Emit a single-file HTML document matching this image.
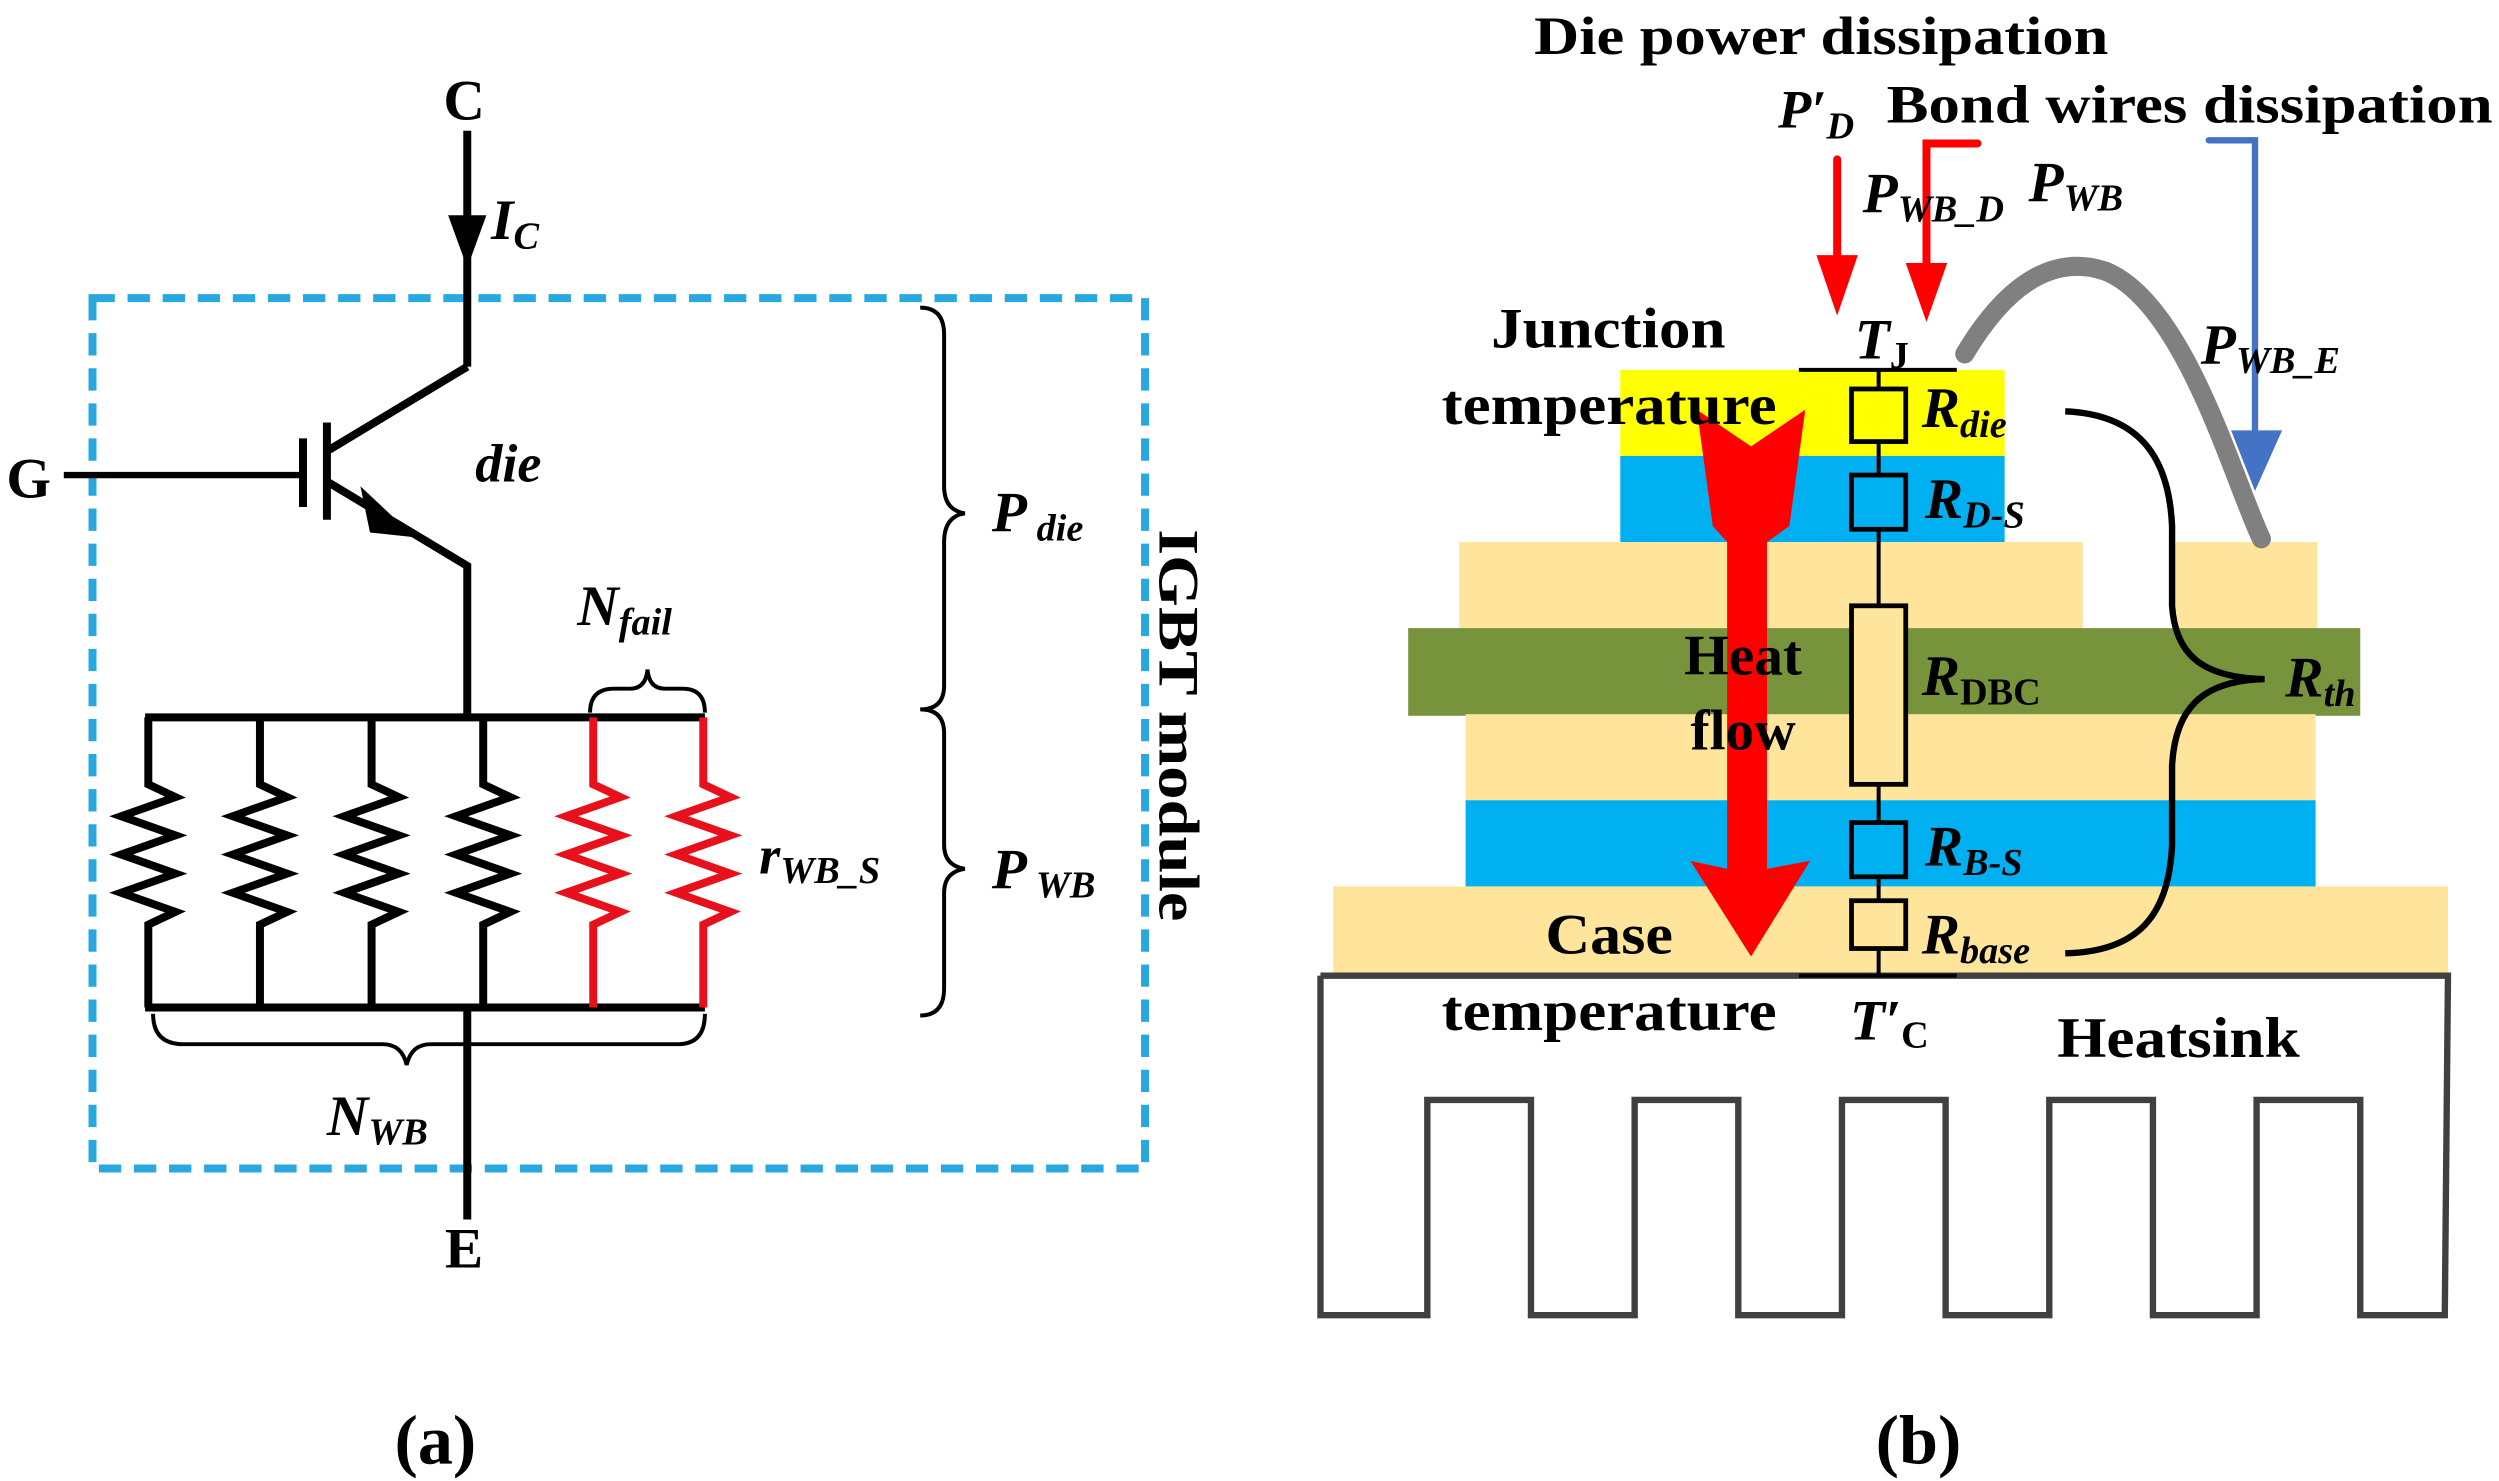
<!DOCTYPE html>
<html><head><meta charset="utf-8"><style>
html,body{margin:0;padding:0;background:#fff;}
svg{display:block;}
text{font-family:"Liberation Serif",serif;font-weight:bold;}
</style></head><body>
<svg width="2499" height="1481" viewBox="0 0 1567 929" preserveAspectRatio="none" xmlns="http://www.w3.org/2000/svg">
<!-- ========== (a) ========== -->
<rect x="58" y="187" width="660" height="546" fill="none" stroke="#29a8e0" stroke-width="5" stroke-dasharray="14,8"/>
<text x="291" y="75" font-size="36" text-anchor="middle">C</text>
<line x1="293" y1="82" x2="293" y2="230" stroke="#000" stroke-width="5"/>
<polygon points="281,135 305,135 293,168" fill="#000"/>
<text x="308" y="150" font-size="36" font-style="italic">I<tspan font-size="24" dy="6">C</tspan></text>
<polyline points="293,230 205,283" fill="none" stroke="#000" stroke-width="5"/>
<line x1="205" y1="265" x2="205" y2="326" stroke="#000" stroke-width="5"/>
<line x1="190" y1="275" x2="190" y2="318" stroke="#000" stroke-width="5"/>
<line x1="40" y1="298" x2="190" y2="298" stroke="#000" stroke-width="4"/>
<text x="4" y="312" font-size="36">G</text>
<polyline points="205,302 293,355 293,450" fill="none" stroke="#000" stroke-width="5"/>
<polygon points="226,305 260,337 232,334" fill="#000"/>
<text x="298" y="302" font-size="34" font-style="italic">die</text>
<line x1="91" y1="450" x2="442" y2="450" stroke="#000" stroke-width="5"/>
<line x1="91" y1="632" x2="442" y2="632" stroke="#000" stroke-width="5"/>
<g fill="none" stroke-width="5" stroke-linejoin="miter">
<polyline stroke="#000" points="93,450 93,492 110,500 76,512 110,524 76,536 110,548 76,560 110,572 93,580 93,632"/>
<polyline stroke="#000" points="163,450 163,492 180,500 146,512 180,524 146,536 180,548 146,560 180,572 163,580 163,632"/>
<polyline stroke="#000" points="233,450 233,492 250,500 216,512 250,524 216,536 250,548 216,560 250,572 233,580 233,632"/>
<polyline stroke="#000" points="303,450 303,492 320,500 286,512 320,524 286,536 320,548 286,560 320,572 303,580 303,632"/>
<polyline stroke="#e8101a" points="372,450 372,492 389,500 355,512 389,524 355,536 389,548 355,560 389,572 372,580 372,632"/>
<polyline stroke="#e8101a" points="441,450 441,492 458,500 424,512 458,524 424,536 458,548 424,560 458,572 441,580 441,632"/>
</g>
<line x1="293" y1="632" x2="293" y2="765" stroke="#000" stroke-width="5"/>
<text x="291" y="795" font-size="36" text-anchor="middle">E</text>
<path d="M370,447 Q370,432 385,432 L395,432 Q405,432 406,420 Q407,432 417,432 L428,432 Q442,432 442,447" fill="none" stroke="#000" stroke-width="2.5"/>
<text x="362" y="392" font-size="36" font-style="italic">N<tspan font-size="24" dy="6">fail</tspan></text>
<path d="M96,636 Q96,655 115,655 L240,655 Q252,655 255,668 Q258,655 270,655 L425,655 Q442,655 442,636" fill="none" stroke="#000" stroke-width="2.5"/>
<text x="205" y="712" font-size="36" font-style="italic">N<tspan font-size="24" dy="6">WB</tspan></text>
<text x="476" y="548" font-size="34" font-style="italic">r<tspan font-size="24" dy="6">WB_S</tspan></text>
<path d="M577,193 Q592,193 592,210 L592,305 Q592,320 605,322 Q592,324 592,340 L592,430 Q592,445 577,445 Q592,445 592,460 L592,530 Q592,543 605,545 Q592,547 592,560 L592,620 Q592,637 577,637" fill="none" stroke="#000" stroke-width="2.5"/>
<text x="622" y="333" font-size="36" font-style="italic">P<tspan font-size="24" dy="6"> die</tspan></text>
<text x="622" y="557" font-size="36" font-style="italic">P<tspan font-size="24" dy="6"> WB</tspan></text>
<text x="0" y="0" font-size="36" transform="translate(727,332) rotate(90)" textLength="246" lengthAdjust="spacingAndGlyphs">IGBT module</text>
<text x="273" y="918" font-size="44" text-anchor="middle" font-weight="normal">(<tspan font-weight="bold">a</tspan>)</text>

<!-- ========== (b) ========== -->
<rect x="1016" y="232" width="241" height="55" fill="#ffff00"/>
<rect x="1016" y="286" width="241" height="55" fill="#00b0f0"/>
<rect x="915" y="340" width="391" height="55" fill="#ffe59b"/>
<rect x="1364" y="340" width="89" height="55" fill="#ffe59b"/>
<rect x="883" y="394" width="597" height="55" fill="#77933c"/>
<rect x="919" y="448" width="533" height="55" fill="#ffe59b"/>
<rect x="919" y="502" width="533" height="55" fill="#00b0f0"/>
<rect x="836" y="556" width="699" height="56" fill="#ffe59b"/>
<polyline points="828,612 1535,612 1533,825 1480,825 1480,690 1415,690 1415,825 1350,825 1350,690 1285,690 1285,825 1220,825 1220,690 1155,690 1155,825 1090,825 1090,690 1025,690 1025,825 960,825 960,690 895,690 895,825 828,825 828,612" fill="none" stroke="#404040" stroke-width="4"/>
<polygon points="1064,257 1098,280 1132,257 1122,330 1108,340 1108,545 1135,540 1098,600 1060,540 1083,545 1083,340 1074,330" fill="#ff0000"/>
<line x1="1178" y1="232" x2="1178" y2="612" stroke="#000" stroke-width="2.5"/>
<line x1="1128" y1="232" x2="1227" y2="232" stroke="#000" stroke-width="2.5"/>
<line x1="1128" y1="612" x2="1227" y2="612" stroke="#000" stroke-width="2.5"/>
<g stroke="#000" stroke-width="3">
<rect x="1161" y="244" width="34" height="33" fill="#ffff00"/>
<rect x="1161" y="298" width="34" height="34" fill="#00b0f0"/>
<rect x="1161" y="380" width="34" height="112" fill="#ffe59b"/>
<rect x="1161" y="516" width="34" height="34" fill="#00b0f0"/>
<rect x="1161" y="565" width="34" height="30" fill="#ffe59b"/>
</g>
<path d="M1232,222 C1260,175 1290,160 1320,170 C1370,190 1400,300 1418,338" fill="none" stroke="#808080" stroke-width="12" stroke-linecap="round"/>
<line x1="1152" y1="100" x2="1152" y2="160" stroke="#ff0000" stroke-width="5" stroke-linecap="round"/>
<polygon points="1139,160 1165,160 1152,198" fill="#ff0000"/>
<polyline points="1240,90 1208,90 1208,165" fill="none" stroke="#ff0000" stroke-width="5" stroke-linecap="round"/>
<polygon points="1195,165 1221,165 1208,202" fill="#ff0000"/>
<polyline points="1385,88 1414,88 1414,272" fill="none" stroke="#4472c4" stroke-width="4" stroke-linecap="round"/>
<polygon points="1399,270 1431,270 1414,308" fill="#4472c4"/>
<path d="M1295,258 C1340,260 1360,285 1362,330 L1362,380 C1364,410 1380,425 1420,426 C1380,427 1364,445 1362,480 L1362,530 C1360,575 1340,597 1295,598" fill="none" stroke="#000" stroke-width="4"/>
<text x="962" y="34" font-size="34" textLength="360" lengthAdjust="spacingAndGlyphs">Die power dissipation</text>
<text x="1115" y="80" font-size="34" font-style="italic">P′<tspan font-size="24" dy="7">D</tspan></text>
<text x="1183" y="77" font-size="34" textLength="380" lengthAdjust="spacingAndGlyphs">Bond wires dissipation</text>
<text x="1168" y="133" font-size="36" font-style="italic">P<tspan font-size="24" dy="6">WB_D</tspan></text>
<text x="1272" y="126" font-size="36" font-style="italic">P<tspan font-size="24" dy="6">WB</tspan></text>
<text x="1380" y="228" font-size="36" font-style="italic">P<tspan font-size="24" dy="6">WB_E</tspan></text>
<text x="1163" y="225" font-size="36" font-style="italic">T<tspan font-size="24" dy="6" font-style="normal">J</tspan></text>
<text x="935" y="218" font-size="36" textLength="147" lengthAdjust="spacingAndGlyphs">Junction</text>
<text x="904" y="266" font-size="36" textLength="210" lengthAdjust="spacingAndGlyphs">temperature</text>
<text x="1093" y="423" font-size="36" text-anchor="middle">Heat</text>
<text x="1093" y="470" font-size="36" text-anchor="middle">flow</text>
<text x="969" y="598" font-size="36" textLength="80" lengthAdjust="spacingAndGlyphs">Case</text>
<text x="904" y="646" font-size="36" textLength="210" lengthAdjust="spacingAndGlyphs">temperature</text>
<text x="1160" y="652" font-size="36" font-style="italic">T′<tspan font-size="24" dy="5" font-style="normal">C</tspan></text>
<text x="1290" y="663" font-size="36" textLength="152" lengthAdjust="spacingAndGlyphs">Heatsink</text>
<text x="1205" y="268" font-size="36" font-style="italic">R<tspan font-size="24" dy="6">die</tspan></text>
<text x="1207" y="325" font-size="36" font-style="italic">R<tspan font-size="24" dy="6">D-S</tspan></text>
<text x="1205" y="436" font-size="36" font-style="italic">R<tspan font-size="24" dy="6" font-style="normal">DBC</tspan></text>
<text x="1207" y="543" font-size="36" font-style="italic">R<tspan font-size="24" dy="6">B-S</tspan></text>
<text x="1205" y="598" font-size="36" font-style="italic">R<tspan font-size="24" dy="6">base</tspan></text>
<text x="1433" y="437" font-size="36" font-style="italic">R<tspan font-size="24" dy="6">th</tspan></text>
<text x="1203" y="918" font-size="44" text-anchor="middle" font-weight="normal">(<tspan font-weight="bold">b</tspan>)</text>
</svg>
</body></html>
